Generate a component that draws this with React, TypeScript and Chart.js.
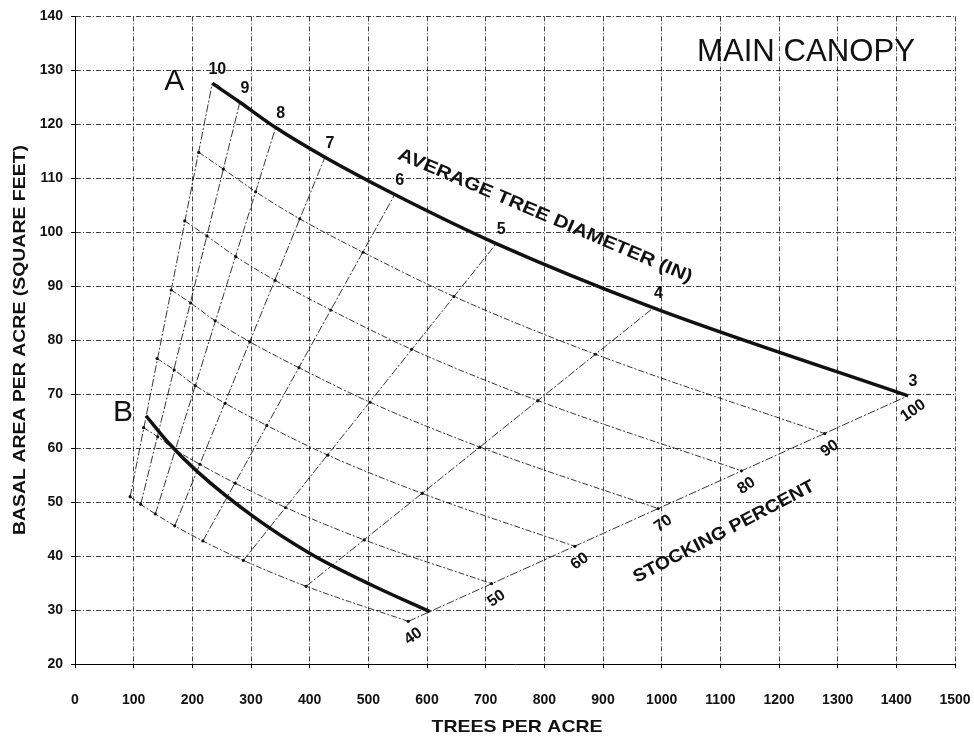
import React, { useEffect, useRef } from "react";
import { Chart, registerables } from "chart.js";

Chart.register(...registerables);

// Average tree diameter (inches) along the A-line (100% stocking)
const DIAMETERS = [3, 4, 5, 6, 7, 8, 9, 10];

// A-line (100 % stocking): trees per acre and basal area at each diameter
const tpaA = [1420, 986, 718, 545, 426, 342, 281, 234];
const baA = [69.7, 86.0, 97.9, 107.0, 113.9, 119.4, 124.1, 127.6];

// Stocking curves, values read at each diameter (3 .. 10 in)
const tpa90 = [1278, 887, 646, 491, 383, 308, 253, 211];
const ba90 = [62.7, 77.4, 88.1, 96.3, 102.5, 107.5, 111.7, 114.8];
const tpa80 = [1136, 789, 574, 436, 341, 274, 225, 187];
const ba80 = [55.8, 68.8, 78.3, 85.6, 91.1, 95.5, 99.3, 102.1];
const tpa70 = [994, 690, 503, 382, 298, 239, 197, 164];
const ba70 = [48.8, 60.2, 68.5, 74.9, 79.7, 83.6, 86.9, 89.3];
const tpa60 = [852, 592, 431, 327, 256, 205, 169, 140];
const ba60 = [41.8, 51.6, 58.7, 64.2, 68.3, 71.6, 74.5, 76.6];
const tpa50 = [710, 493, 359, 273, 213, 171, 141, 117];
const ba50 = [34.9, 43.0, 49.0, 53.5, 57.0, 59.7, 62.1, 63.8];
const tpa40 = [568, 394, 287, 218, 170, 137, 112, 94];
const ba40 = [27.9, 34.4, 39.2, 42.8, 45.6, 47.8, 49.6, 51.0];

// B-line (minimum stocking for full site occupancy)
const tpaB = [121, 160, 210, 303, 405, 508, 605];
const baB = [66.0, 60.9, 55.5, 47.4, 40.2, 34.5, 29.7];

const STOCKING_LABELS = ["40", "50", "60", "70", "80", "90", "100"];

const X_MIN = 0;
const X_MAX = 1500;
const X_STEP = 100;
const Y_MIN = 20;
const Y_MAX = 140;
const Y_STEP = 10;

const FONT = "'Liberation Sans', Arial, Helvetica, sans-serif";
const INK = "#111";

const stockRows = [
  { tpa: tpa40, ba: ba40 },
  { tpa: tpa50, ba: ba50 },
  { tpa: tpa60, ba: ba60 },
  { tpa: tpa70, ba: ba70 },
  { tpa: tpa80, ba: ba80 },
  { tpa: tpa90, ba: ba90 },
];

function pts(tpa: number[], ba: number[]) {
  return tpa
    .map((x, i) => ({ x, y: ba[i] }))
    .sort((a, b) => a.x - b.x);
}

function drawText(
  ctx: CanvasRenderingContext2D,
  text: string,
  x: number,
  y: number,
  font: string,
  angle = 0,
  width?: number
) {
  ctx.save();
  ctx.translate(x, y);
  ctx.rotate((angle * Math.PI) / 180);
  ctx.font = font;
  ctx.textAlign = "center";
  ctx.textBaseline = "middle";
  if (width) {
    const w = ctx.measureText(text).width;
    ctx.scale(width / w, 1);
  }
  ctx.fillStyle = INK;
  ctx.fillText(text, 0, 0);
  ctx.restore();
}

const annotations = {
  id: "annotations",
  afterDatasetsDraw(chart: any) {
    const ctx = chart.ctx as CanvasRenderingContext2D;
    const xs = chart.scales.x;
    const ys = chart.scales.y;
    const px = (v: number) => xs.getPixelForValue(v);
    const py = (v: number) => ys.getPixelForValue(v);

    // diameter labels along the A-line
    DIAMETERS.forEach((d, i) => {
      drawText(ctx, String(d), px(tpaA[i]) + 5, py(baA[i]) - 14, `bold 16px ${FONT}`);
    });

    // stocking percent labels along the 3-inch line
    const row3 = [...stockRows.map((r) => ({ x: r.tpa[0], y: r.ba[0] })), { x: tpaA[0], y: baA[0] }];
    row3.forEach((p, i) => {
      drawText(ctx, STOCKING_LABELS[i], px(p.x) + 5, py(p.y) + 15, `bold 16px ${FONT}`, -35);
    });

    // A and B markers
    const aIdx = tpaA.length - 1;
    drawText(ctx, "A", px(tpaA[aIdx]) - 38, py(baA[aIdx]) - 2, `30px ${FONT}`);
    drawText(ctx, "B", px(tpaB[0]) - 23, py(baB[0]) - 3, `30px ${FONT}`);

    // rotated captions
    drawText(ctx, "AVERAGE TREE DIAMETER (IN)", 545, 216, `bold 18px ${FONT}`, 23, 318);
    drawText(ctx, "STOCKING PERCENT", 724, 532, `bold 18px ${FONT}`, -27.5, 202);
    drawText(ctx, "MAIN CANOPY", 806, 52, `32px ${FONT}`, 0, 218);

    // axis titles
    drawText(ctx, "TREES PER ACRE", 517, 727, `bold 17px ${FONT}`, 0, 171);
    drawText(ctx, "BASAL AREA PER ACRE (SQUARE FEET)", 20, 340, `bold 17px ${FONT}`, -90, 390);
  },
};

export default function App() {
  const ref = useRef<HTMLCanvasElement | null>(null);

  useEffect(() => {
    if (!ref.current) return;

    const thin = {
      borderColor: "rgba(20,20,20,0.85)",
      borderWidth: 1,
      borderDash: [6, 2, 2, 2],
      showLine: true,
      fill: false,
      pointRadius: 1.6,
      pointBackgroundColor: INK,
      pointBorderWidth: 0,
      cubicInterpolationMode: "monotone" as const,
    };

    const datasets: any[] = [];

    // diameter rays from 40 % to 100 % stocking
    DIAMETERS.forEach((d, i) => {
      datasets.push({
        ...thin,
        label: `d${d}`,
        data: [
          { x: tpa40[i], y: ba40[i] },
          { x: tpaA[i], y: baA[i] },
        ],
        borderDash: [8, 2, 2, 2],
        pointRadius: 0,
      });
    });

    // stocking curves 40 .. 90 %
    stockRows.forEach((r, i) => {
      datasets.push({
        ...thin,
        label: `s${STOCKING_LABELS[i]}`,
        data: pts(r.tpa, r.ba),
      });
    });

    // A-line
    datasets.push({
      label: "A",
      data: pts(tpaA, baA),
      showLine: true,
      borderColor: INK,
      borderWidth: 3.5,
      pointRadius: 0,
      cubicInterpolationMode: "monotone",
    });

    // B-line
    datasets.push({
      label: "B",
      data: pts(tpaB, baB),
      showLine: true,
      borderColor: INK,
      borderWidth: 3.5,
      pointRadius: 0,
      cubicInterpolationMode: "monotone",
    });

    const gridCommon = {
      color: "rgba(0,0,0,0.75)",
      lineWidth: 1,
      tickLength: 4,
      tickColor: "#000",
    };

    const chart = new Chart(ref.current, {
      type: "scatter",
      data: { datasets },
      options: {
        responsive: false,
        devicePixelRatio: 1,
        animation: false,
        layout: { padding: { top: 15, right: 19, left: 0, bottom: 0 } },
        plugins: {
          legend: { display: false },
          tooltip: { enabled: false },
        },
        scales: {
          x: {
            type: "linear",
            min: X_MIN,
            max: X_MAX,
            ticks: {
              stepSize: X_STEP,
              autoSkip: false,
              maxRotation: 0,
              padding: 24,
              color: INK,
              font: { family: FONT, size: 14, weight: "bold" },
              callback: (v: any) => String(v),
            },
            grid: gridCommon,
            border: { display: true, color: "#000", width: 1, dash: [5, 2, 1, 2] },
            afterFit: (s: any) => {
              s.height = 76;
              s.paddingLeft = 0;
              s.paddingRight = 0;
            },
          },
          y: {
            type: "linear",
            min: Y_MIN,
            max: Y_MAX,
            ticks: {
              stepSize: Y_STEP,
              padding: 8,
              color: INK,
              font: { family: FONT, size: 14, weight: "bold" },
              callback: (v: any) => String(v),
            },
            grid: gridCommon,
            border: { display: true, color: "#000", width: 1, dash: [5, 2, 1, 2] },
            afterFit: (s: any) => {
              s.width = 75;
            },
          },
        },
      },
      plugins: [annotations],
    });

    return () => chart.destroy();
  }, []);

  return (
    <div
      style={{
        position: "absolute",
        left: 0,
        top: 0,
        width: 974,
        height: 740,
        background: "#fff",
      }}
    >
      <canvas ref={ref} width={974} height={740} style={{ display: "block", width: 974, height: 740 }} />
    </div>
  );
}
